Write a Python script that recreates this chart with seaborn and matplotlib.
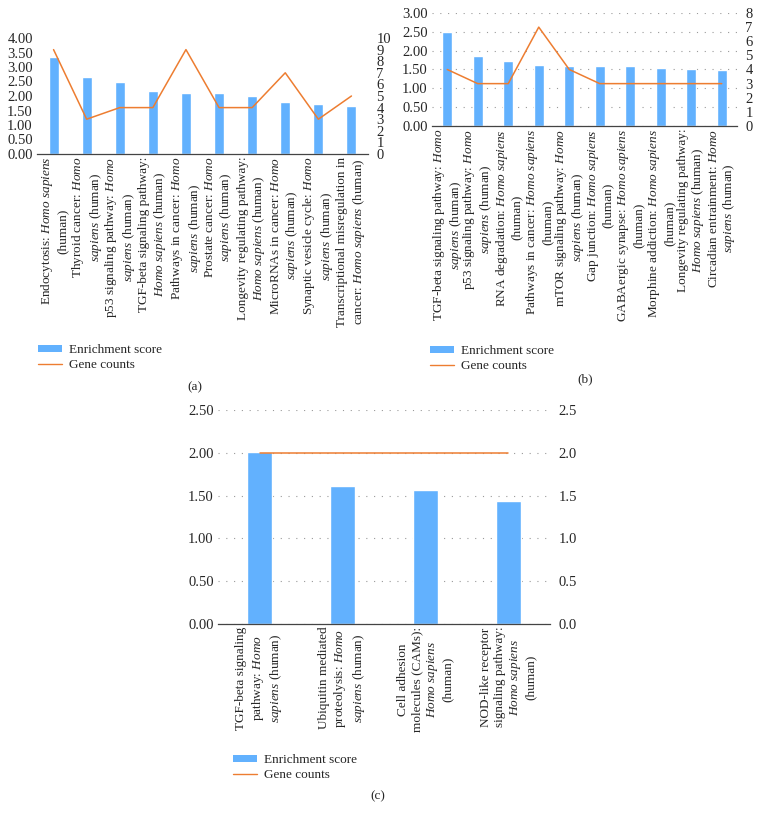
import matplotlib
matplotlib.use("Agg")
import matplotlib.pyplot as plt
from matplotlib.patches import Patch
from matplotlib.lines import Line2D
from matplotlib.ticker import FormatStrFormatter
import numpy as np
import seaborn as sns

# italic species names via mathtext
HS = r"$\mathit{Homo\ sapiens}$"
H = r"$\mathit{Homo}$"
S = r"$\mathit{sapiens}$"

labels_a = [
    f"Endocytosis: {HS}\n(human)",
    f"Thyroid cancer: {H}\n{S} (human)",
    f"p53 signaling pathway: {H}\n{S} (human)",
    f"TGF-beta signaling pathway:\n{HS} (human)",
    f"Pathways in cancer: {H}\n{S} (human)",
    f"Prostate cancer: {H}\n{S} (human)",
    f"Longevity regulating pathway:\n{HS} (human)",
    f"MicroRNAs in cancer: {H}\n{S} (human)",
    f"Synaptic vesicle cycle: {H}\n{S} (human)",
    f"Transcriptional misregulation in\ncancer: {HS} (human)",
]
scores_a = [3.35, 2.65, 2.47, 2.17, 2.10, 2.09, 2.01, 1.78, 1.71, 1.65]
counts_a = [9, 3, 4, 4, 9, 4, 4, 7, 3, 5]

labels_b = [
    f"TGF-beta signaling pathway: {H}\n{S} (human)",
    f"p53 signaling pathway: {H}\n{S} (human)",
    f"RNA degradation: {HS}\n(human)",
    f"Pathways in cancer: {HS}\n(human)",
    f"mTOR signaling pathway: {H}\n{S} (human)",
    f"Gap junction: {HS}\n(human)",
    f"GABAergic synapse: {HS}\n(human)",
    f"Morphine addiction: {HS}\n(human)",
    f"Longevity regulating pathway:\n{HS} (human)",
    f"Circadian entrainment: {H}\n{S} (human)",
]
scores_b = [2.50, 1.86, 1.73, 1.62, 1.59, 1.58, 1.58, 1.54, 1.51, 1.49]
counts_b = [4, 3, 3, 7, 4, 3, 3, 3, 3, 3]

labels_c = [
    f"TGF-beta signaling\npathway: {H}\n{S} (human)",
    f"Ubiquitin mediated\nproteolysis: {H}\n{S} (human)",
    f"Cell adhesion\nmolecules (CAMs):\n{HS}\n(human)",
    f"NOD-like receptor\nsignaling pathway:\n{HS}\n(human)",
]
scores_c = [2.01, 1.61, 1.56, 1.44]
counts_c = [2, 2, 2, 2]

BLUE = "#62B1FE"
ORANGE = "#ED7D31"
FS = 9.5
NUM_FS = 10.5

sns.set_style("white")
plt.rcParams["font.family"] = ["Liberation Serif", "DejaVu Serif"]
plt.rcParams["mathtext.fontset"] = "custom"
plt.rcParams["mathtext.rm"] = "Liberation Serif"
plt.rcParams["mathtext.it"] = "Liberation Serif:italic"
plt.rcParams["font.size"] = FS

W, Ht = 760, 822
fig = plt.figure(figsize=(W / 100, Ht / 100), dpi=100)


def px_rect(left, top, right, bottom):
    return [left / W, 1 - bottom / Ht, (right - left) / W, (bottom - top) / Ht]


def draw_panel(rect, labels, scores, counts, ymax, y2max, y2step, y2fmt, grid, bw,
               lsp=1.2):
    ax = fig.add_axes(rect)
    x = np.arange(len(labels))
    sns.barplot(x=x, y=scores, ax=ax, color=BLUE, saturation=1, width=bw)
    ax2 = ax.twinx()
    sns.lineplot(x=x, y=counts, ax=ax2, color=ORANGE, lw=1.1)

    ax.set_xlim(-0.5, len(labels) - 0.5)
    ax.set_ylim(0, ymax)
    ax.set_yticks(np.arange(0, ymax + 0.001, 0.5))
    ax.yaxis.set_major_formatter(FormatStrFormatter("%.2f"))
    ax2.set_ylim(0, y2max)
    ax2.set_yticks(np.arange(0, y2max + 0.001, y2step))
    ax2.yaxis.set_major_formatter(FormatStrFormatter(y2fmt))
    ax.set_xticks(x, labels, rotation=90, multialignment="center", fontsize=FS,
                  linespacing=lsp)
    ax.set_xlabel("")
    ax.set_ylabel("")
    ax2.set_ylabel("")
    ax.tick_params(axis="both", length=0)
    ax.tick_params(axis="x", pad=2)
    ax.tick_params(axis="y", pad=3, labelsize=NUM_FS)
    ax2.tick_params(axis="y", length=0, labelsize=NUM_FS, pad=6)
    for a in (ax, ax2):
        for side in ("top", "left", "right", "bottom"):
            a.spines[side].set_visible(False)
    ax.spines["bottom"].set_visible(True)
    ax.spines["bottom"].set_color("#444444")
    ax.spines["bottom"].set_linewidth(0.9)
    if grid:
        ax.yaxis.grid(True, color="#9a9a9a", linestyle=(0, (1, 6)), lw=0.8)
    ax.set_axisbelow(True)
    return ax


def add_legend(x, y):
    handles = [
        Patch(facecolor=BLUE, edgecolor="none"),
        Line2D([], [], color=ORANGE, lw=1.0),
    ]
    fig.legend(handles, ["Enrichment score", "Gene counts"], loc="upper left",
               bbox_to_anchor=(x / W, 1 - y / Ht), frameon=False, fontsize=FS,
               handlelength=1.8, handleheight=0.4, handletextpad=0.55,
               labelspacing=0.25, borderpad=0, borderaxespad=0)


draw_panel(px_rect(37, 38, 368, 154), labels_a, scores_a, counts_a,
           4.0, 10, 1, "%d", False, 0.3)
draw_panel(px_rect(432, 13, 737, 126), labels_b, scores_b, counts_b,
           3.0, 8, 1, "%d", True, 0.33, lsp=1.1)
draw_panel(px_rect(218, 410, 550, 624), labels_c, scores_c, counts_c,
           2.5, 2.5, 0.5, "%.1f", True, 0.31)

add_legend(38, 344)
add_legend(430, 345)
add_legend(233, 754)

fig.text(195 / W, 1 - 387 / Ht, "(a)", ha="center", va="center", fontsize=FS)
fig.text(585 / W, 1 - 379 / Ht, "(b)", ha="center", va="center", fontsize=FS)
fig.text(378 / W, 1 - 796 / Ht, "(c)", ha="center", va="center", fontsize=FS)

fig.savefig("out.png", dpi=100)
